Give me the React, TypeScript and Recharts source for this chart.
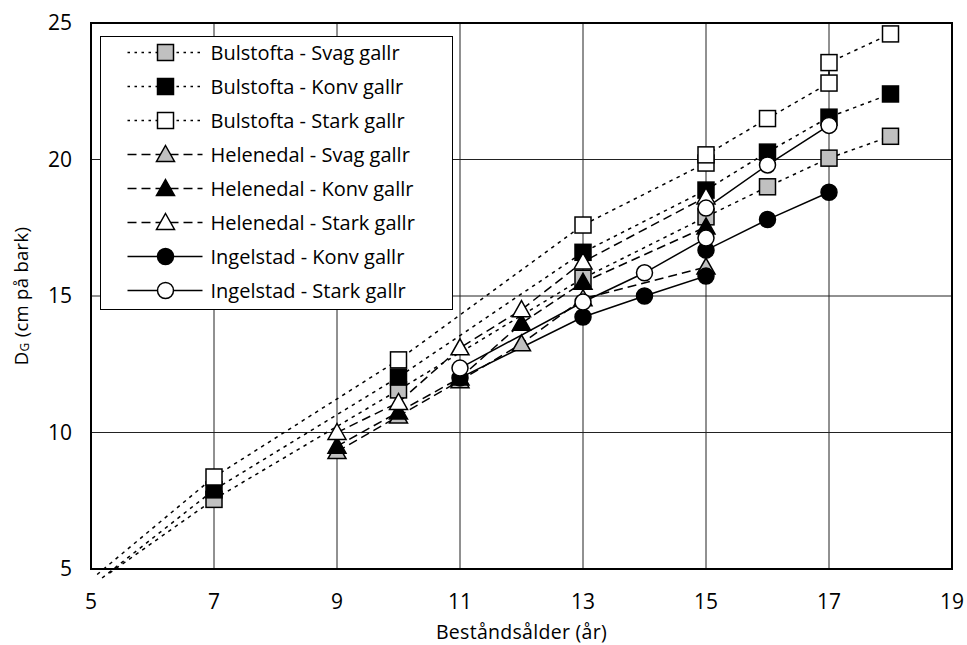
import React from "react";
import { LineChart, Line, XAxis, YAxis, CartesianGrid, ReferenceArea, Legend } from "recharts";

// ---- axes ----
const xTicks = [5, 7, 9, 11, 13, 15, 17, 19];
const yTicks = [5, 10, 15, 20, 25];

// ---- Bulstofta (dotted, squares); first point is the lead-in below the axis ----
const bulSvag = [
  { x: 5.3, y: 4.85 }, { x: 7, y: 7.55 }, { x: 10, y: 11.56 }, { x: 13, y: 15.65 },
  { x: 15, y: 17.9 }, { x: 16, y: 19.0 }, { x: 17, y: 20.05 }, { x: 18, y: 20.85 },
];
const bulKonv = [
  { x: 5.18, y: 4.67 }, { x: 7, y: 7.9 }, { x: 10, y: 12.03 }, { x: 13, y: 16.6 },
  { x: 15, y: 18.88 }, { x: 16, y: 20.27 }, { x: 17, y: 21.55 }, { x: 18, y: 22.4 },
];
const bulStark = [
  { x: 5.1, y: 4.8 }, { x: 7, y: 8.37 }, { x: 10, y: 12.66 }, { x: 13, y: 17.6 },
  { x: 15, y: 19.87 }, { x: 15, y: 20.17 }, { x: 16, y: 21.5 }, { x: 17, y: 22.8 },
  { x: 17, y: 23.55 }, { x: 18, y: 24.6 },
];

// ---- Helenedal (dashed, triangles) ----
const helSvag = [
  { x: 9, y: 9.3 }, { x: 10, y: 10.6 }, { x: 11, y: 11.9 }, { x: 12, y: 13.25 },
  { x: 13, y: 14.9 }, { x: 15, y: 16.06 },
];
const helKonv = [
  { x: 9, y: 9.5 }, { x: 10, y: 10.75 }, { x: 11, y: 12.0 }, { x: 12, y: 14.0 },
  { x: 13, y: 15.5 }, { x: 15, y: 17.53 },
];
const helStark = [
  { x: 9, y: 10.0 }, { x: 10, y: 11.1 }, { x: 11, y: 13.1 }, { x: 12, y: 14.5 },
  { x: 13, y: 16.25 }, { x: 15, y: 18.63 },
];

// ---- Ingelstad (solid, circles) ----
const ingKonv = [
  { x: 11, y: 12.0 }, { x: 13, y: 14.23 }, { x: 14, y: 15.0 }, { x: 15, y: 15.73 },
  { x: 15, y: 16.68 }, { x: 16, y: 17.8 }, { x: 17, y: 18.8 },
];
const ingStark = [
  { x: 11, y: 12.36 }, { x: 13, y: 14.78 }, { x: 14, y: 15.85 }, { x: 15, y: 17.12 },
  { x: 15, y: 18.22 }, { x: 16, y: 19.8 }, { x: 17, y: 21.25 },
];

const GRAY = "#c0c0c0";
const DOTTED = "3.5 4.5";
const DASHED = "9 5";

type Shape = "square" | "triangle" | "circle";

const series: { name: string; data: { x: number; y: number }[]; shape: Shape; fill: string; dash?: string; legendDash?: string }[] = [
  { name: "Bulstofta - Svag gallr", data: bulSvag, shape: "square", fill: GRAY, dash: DOTTED, legendDash: "2.5 4.5" },
  { name: "Bulstofta - Konv gallr", data: bulKonv, shape: "square", fill: "#000", dash: DOTTED, legendDash: "2.5 4.5" },
  { name: "Bulstofta - Stark gallr", data: bulStark, shape: "square", fill: "#fff", dash: DOTTED, legendDash: "2.5 4.5" },
  { name: "Helenedal - Svag gallr", data: helSvag, shape: "triangle", fill: GRAY, dash: DASHED, legendDash: DASHED },
  { name: "Helenedal - Konv gallr", data: helKonv, shape: "triangle", fill: "#000", dash: DASHED, legendDash: DASHED },
  { name: "Helenedal - Stark gallr", data: helStark, shape: "triangle", fill: "#fff", dash: DASHED, legendDash: DASHED },
  { name: "Ingelstad - Konv gallr", data: ingKonv, shape: "circle", fill: "#000" },
  { name: "Ingelstad - Stark gallr", data: ingStark, shape: "circle", fill: "#fff" },
];

function Marker({ cx, cy, shape, fill }: { cx?: number; cy?: number; shape: Shape; fill: string }) {
  if (cx == null || cy == null) return null;
  const h = 8;
  if (shape === "square")
    return <rect x={cx - h} y={cy - h} width={h * 2} height={h * 2} fill={fill} stroke="#000" strokeWidth={1.5} />;
  if (shape === "triangle")
    return (
      <polygon
        points={`${cx},${cy - h - 1} ${cx + h + 1},${cy + h - 1} ${cx - h - 1},${cy + h - 1}`}
        fill={fill}
        stroke="#000"
        strokeWidth={1.5}
      />
    );
  return <circle cx={cx} cy={cy} r={h} fill={fill} stroke="#000" strokeWidth={1.5} />;
}

const renderLegend = () => (
  <div style={{ width: 353, height: 274, border: "1.5px solid #000", background: "#fff", boxSizing: "border-box" }}>
    <svg width={350} height={271} style={{ display: "block" }}>
      {series.map((s, i) => {
        const cy = 15.5 + i * 34;
        return (
          <g key={s.name}>
            <line x1={26.5} x2={101.5} y1={cy} y2={cy} stroke="#000" strokeWidth={1.5} strokeDasharray={s.legendDash} />
            <Marker cx={64.5} cy={cy} shape={s.shape} fill={s.fill} />
            <text x={109.5} y={cy} dominantBaseline="central" fontSize={20} fill="#000" fontFamily="Open Sans">
              {s.name}
            </text>
          </g>
        );
      })}
    </svg>
  </div>
);

const renderYLabel = () => (
  <text x={20} y={296} transform="rotate(-90 20 296)" textAnchor="middle" dominantBaseline="central" fontSize={18.5} letterSpacing={0.3} fill="#000">
    D<tspan fontSize={12} dy={4}>G</tspan>
    <tspan dy={-4}> (cm på bark)</tspan>
  </text>
);

export default function App() {
  return (
    <div>
      <style>{"body{margin:0} .recharts-line [clip-path]{clip-path:none !important}"}</style>
      <LineChart
        width={967}
        height={645}
        margin={{ top: 23, right: 15, bottom: 0, left: 31 }}
        style={{ fontFamily: "Open Sans" }}
      >
        <CartesianGrid stroke="#222" strokeWidth={1} />
        <XAxis
          type="number"
          dataKey="x"
          domain={[5, 19]}
          ticks={xTicks}
          allowDataOverflow
          axisLine={false}
          tickLine={false}
          tickSize={0}
          tickMargin={25}
          height={76}
          tick={{ fontSize: 21, fill: "#000" }}
          label={{ value: "Beståndsålder (år)", position: "insideBottom", offset: 6, fontSize: 19.5, letterSpacing: 0.3, fill: "#000" }}
        />
        <YAxis
          type="number"
          dataKey="y"
          domain={[5, 25]}
          ticks={yTicks}
          allowDataOverflow
          axisLine={false}
          tickLine={false}
          tickSize={0}
          tickMargin={19}
          width={60}
          tick={{ fontSize: 21, fill: "#000" }}
          label={{ content: renderYLabel }}
        />
        <ReferenceArea x1={5} x2={19} y1={5} y2={25} fill="none" stroke="#000" strokeWidth={2} ifOverflow="visible" />
        {series.map((s) => (
          <Line
            key={s.name}
            name={s.name}
            data={s.data}
            dataKey="y"
            type="linear"
            stroke="#000"
            strokeWidth={1.5}
            strokeDasharray={s.dash}
            isAnimationActive={false}
            activeDot={false}
            dot={(p: any) => {
              if (p.payload && p.payload.y < 5) return <g key={p.index} />;
              return <Marker key={p.index} cx={p.cx} cy={p.cy} shape={s.shape} fill={s.fill} />;
            }}
          />
        ))}
        <Legend
          layout="vertical"
          align="center"
          verticalAlign="middle"
          content={renderLegend}
          wrapperStyle={{ left: 100, top: 36, width: 353, height: 274 }}
        />
      </LineChart>
    </div>
  );
}
